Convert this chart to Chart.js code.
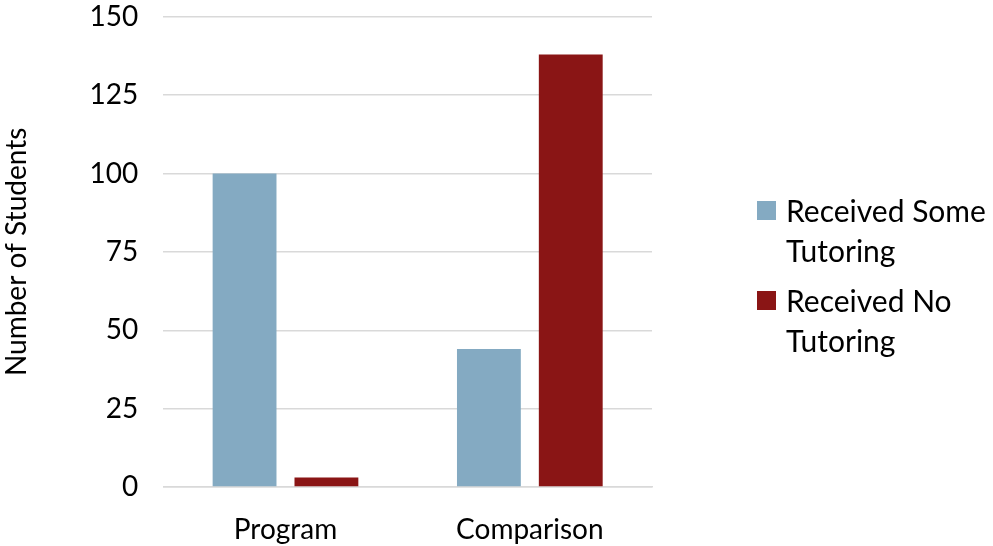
<!DOCTYPE html>
<html>
<head>
<meta charset="utf-8">
<script src="https://cdn.jsdelivr.net/npm/chart.js@4"></script>
<style>
html,body{margin:0;padding:0;background:#fff;}
#wrap{position:relative;width:993px;height:546px;overflow:hidden;}
#c{position:absolute;left:0;top:-25px;}
#legend{position:absolute;left:757px;top:190px;font-family:Lato,"Open Sans",sans-serif;font-size:30px;color:#000;line-height:40px;}
#legend .it{display:flex;align-items:flex-start;margin-bottom:10px;}
#legend .sw{width:19px;height:19px;margin-top:11px;margin-right:10px;flex:none;}
</style>
</head>
<body>
<div id="wrap">
<canvas id="c" width="993" height="571"></canvas>
<div id="legend"></div>
</div>
<script>
const categories=["Program","Comparison"];
const someTutoring=[100,44];
const noTutoring=[3,138];
const seriesNames=[["Received Some","Tutoring"],["Received No","Tutoring"]];
const colors=["#84aac2","#8a1515"];
const yTicks=[0,25,50,75,100,125,150];

const font={family:"Lato, 'Open Sans', sans-serif",size:28};
const ctx=document.getElementById("c").getContext("2d");
const chart=new Chart(ctx,{
  type:"bar",
  data:{labels:categories,datasets:[
    {label:seriesNames[0].join(" "),data:someTutoring,backgroundColor:colors[0]},
    {label:seriesNames[1].join(" "),data:noTutoring,backgroundColor:colors[1]}
  ]},
  options:{
    responsive:false,animation:false,
    categoryPercentage:0.67,barPercentage:0.78,
    layout:{padding:{left:0,right:341,top:0,bottom:0}},
    plugins:{legend:{display:false},tooltip:{enabled:false}},
    scales:{
      x:{grid:{display:false},border:{color:"#d9d9d9",width:1.5},
        afterFit:s=>{s.height=59;},
        ticks:{color:"#000",font:font,padding:18}},
      y:{min:0,max:150,
        afterBuildTicks:s=>{s.ticks=yTicks.map(v=>({value:v}));},
        grid:{color:"#d9d9d9",lineWidth:1.5,drawTicks:false},border:{display:false},
        ticks:{color:"#000",font:font,padding:25},
        title:{display:true,text:"Number of Students",color:"#000",font:font,padding:{top:0,bottom:31}}}
    }
  }
});

const lg=document.getElementById("legend");
seriesNames.forEach((n,i)=>{
  const d=document.createElement("div");d.className="it";
  d.innerHTML='<span class="sw" style="background:'+colors[i]+'"></span><span>'+n.join("<br>")+'</span>';
  lg.appendChild(d);
});
</script>
</body>
</html>
